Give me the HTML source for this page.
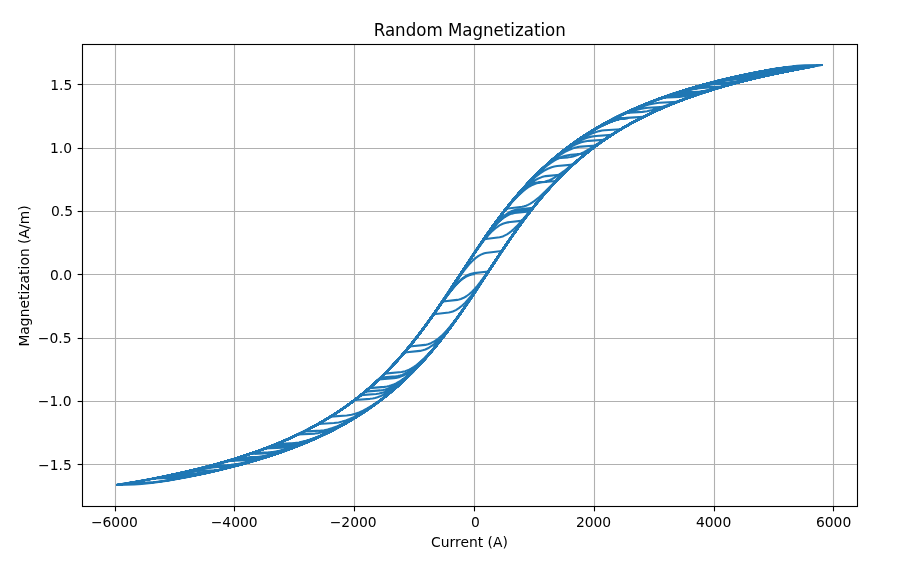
<!DOCTYPE html>
<html><head><meta charset="utf-8"><title>Random Magnetization</title>
<style>
html,body{margin:0;padding:0;background:#fff;}
svg{display:block;}
text{font-family:"DejaVu Sans","Liberation Sans",sans-serif;fill:#000;}
</style></head><body>
<svg width="906" height="571" viewBox="0 0 906 571" style="will-change:transform">
<rect x="0" y="0" width="906" height="571" fill="#fff"/>
<defs><clipPath id="ax"><rect x="82" y="44" width="775" height="462"/></clipPath></defs>
<g stroke="#b0b0b0" stroke-width="1.1111" clip-path="url(#ax)"><line x1="115.5" y1="44" x2="115.5" y2="507"/><line x1="234.5" y1="44" x2="234.5" y2="507"/><line x1="354.5" y1="44" x2="354.5" y2="507"/><line x1="474.5" y1="44" x2="474.5" y2="507"/><line x1="594.5" y1="44" x2="594.5" y2="507"/><line x1="714.5" y1="44" x2="714.5" y2="507"/><line x1="833.5" y1="44" x2="833.5" y2="507"/><line x1="82" y1="84.5" x2="858" y2="84.5"/><line x1="82" y1="148.5" x2="858" y2="148.5"/><line x1="82" y1="211.5" x2="858" y2="211.5"/><line x1="82" y1="274.5" x2="858" y2="274.5"/><line x1="82" y1="338.5" x2="858" y2="338.5"/><line x1="82" y1="401.5" x2="858" y2="401.5"/><line x1="82" y1="464.5" x2="858" y2="464.5"/></g>
<mask id="cm" maskUnits="userSpaceOnUse" x="0" y="0" width="906" height="571"><g style="isolation:isolate" fill="none" stroke="#fff" stroke-width="2.0833" stroke-linecap="round" stroke-linejoin="round"><path style="mix-blend-mode:plus-lighter" d="M474.00 274.29 471.84 274.55 469.33 275.24 466.99 276.20 464.66 277.48 462.32 279.08 459.98 280.99 457.65 283.20 455.13 285.86 451.54 290.09 447.40 295.42 425.30 326.03 418.47 335.09 412.00 343.31 404.63 352.21 397.44 360.41 390.07 368.33 382.70 375.76 375.87 382.23 369.04 388.33 362.03 394.22 354.84 399.89 347.48 405.36 339.93 410.61 332.20 415.64 324.11 420.58 314.41 426.09 304.52 431.27 294.28 436.24 283.49 441.07 272.35 445.68 260.85 450.06 248.99 454.23 236.59 458.24 223.65 462.11 210.35 465.76 196.33 469.31 181.77 472.70 166.67 475.93 150.86 479.05 134.32 482.05 117.25 484.89"/><path style="mix-blend-mode:plus-lighter" d="M117.25 484.89 134.32 484.53 141.87 484.08 153.37 482.80 167.57 480.64 186.80 477.13 207.11 472.89 226.52 468.34 245.03 463.48 260.49 458.97 275.23 454.24 289.43 449.21 302.90 443.95 315.84 438.39 328.25 432.54 340.11 426.39 351.61 419.84 361.85 413.46 371.74 406.76 381.26 399.75 390.61 392.29 399.60 384.51 408.40 376.26 417.03 367.55 425.48 358.38 433.03 349.62 440.57 340.33 448.12 330.52 456.03 319.70 463.04 309.71 470.77 298.33 498.26 256.49 509.77 239.42 516.06 230.42 522.17 221.97 528.10 214.06 533.85 206.70 541.04 197.92 548.23 189.63 555.42 181.82 562.79 174.30 570.33 167.07 577.88 160.30 585.61 153.83 593.70 147.50 603.76 140.22 614.37 133.20 625.33 126.57 636.83 120.21 648.69 114.24 661.09 108.55 674.03 103.14 687.69 97.96 701.89 93.06 716.63 88.44 732.09 84.04 748.44 79.82 765.51 75.82 783.31 72.04 802.00 68.44 821.77 64.99"/><path style="mix-blend-mode:plus-lighter" d="M821.77 64.99 804.68 65.36 797.13 65.84 785.62 67.17 771.59 69.39 752.53 73.01 732.57 77.35 713.33 82.05 695.16 87.03 679.88 91.68 665.13 96.63 651.10 101.83 637.80 107.27 624.85 113.09 612.62 119.15 600.94 125.50 589.62 132.26 579.92 138.58 570.39 145.32 561.23 152.34 552.42 159.64 543.80 167.36 535.35 175.50 527.09 184.07 518.82 193.26 511.63 201.76 504.45 210.75 497.08 220.45 489.53 230.87 482.70 240.67 475.34 251.56 449.28 291.24 438.50 307.29 426.82 323.87 415.86 338.43 409.21 346.73 402.56 354.62 395.91 362.09 389.08 369.35 382.25 376.19 375.25 382.80 368.24 389.02 361.05 395.01 351.89 402.13 342.54 408.83 332.66 415.35 322.60 421.47 312.17 427.29 301.21 432.92 289.89 438.25 278.03 443.38 265.81 448.21 253.06 452.84 239.76 457.25 225.74 461.50 211.19 465.54 196.09 469.37 180.28 473.03 163.75 476.53"/><path style="mix-blend-mode:plus-lighter" d="M163.75 476.53 180.28 476.10 185.85 475.76 194.66 474.71 205.08 472.95 219.46 469.92 235.28 466.07 251.27 461.70 266.91 456.96 280.57 452.40 293.69 447.60 306.27 442.55 318.49 437.19 330.17 431.58 341.31 425.73 352.10 419.54 362.34 413.14 371.51 406.93 380.31 400.48 388.94 393.66 397.39 386.47 405.48 379.07 413.56 371.13 421.47 362.81 429.38 353.92 436.39 345.55 443.40 336.72 450.41 327.45 457.78 317.25 464.43 307.70 471.79 296.79 497.67 257.38 508.46 241.33 519.96 224.99 530.92 210.41 537.57 202.09 544.22 194.19 550.87 186.71 557.70 179.44 564.53 172.58 571.54 165.96 578.55 159.73 585.74 153.72 594.90 146.60 604.43 139.76 614.31 133.24 624.56 127.02 635.16 121.10 646.13 115.49 657.45 110.17 669.31 105.06 681.71 100.17 694.47 95.56 707.95 91.11 721.97 86.87 736.53 82.85 751.80 79.00 767.80 75.31 784.51 71.80"/><path style="mix-blend-mode:plus-lighter" d="M784.51 71.80 767.61 72.24 760.60 72.74 755.38 73.35 749.81 74.19 737.04 76.57 719.60 80.53 701.25 85.31 683.45 90.56 666.37 96.20 651.98 101.49 638.14 107.12 625.01 113.02 612.40 119.26 600.32 125.86 588.82 132.77 577.67 140.12 566.89 147.93 559.35 153.85 551.98 160.02 544.79 166.44 537.60 173.27 530.60 180.36 523.77 187.68 516.94 195.44 510.11 203.63 504.18 211.09 498.07 219.12 491.96 227.47 485.49 236.63 473.27 254.66 450.81 288.92 441.65 302.66 431.76 316.98 422.60 329.60 417.03 336.93 411.64 343.75 406.25 350.30 400.86 356.57 395.47 362.58 389.90 368.51 384.32 374.16 378.75 379.54"/><path style="mix-blend-mode:plus-lighter" d="M378.75 379.54 393.67 378.24 395.83 377.95 397.98 377.49 399.96 376.90 404.09 375.18 406.61 373.83 409.30 372.13 412.00 370.19 414.87 367.90 420.98 362.34 427.63 355.45 434.28 347.89 441.47 339.10 449.01 329.29 456.74 318.69 463.75 308.68 471.30 297.54 497.89 257.06 508.85 240.75 520.53 224.20 531.49 209.68 538.14 201.40 544.79 193.54 551.44 186.09 558.09 179.04 564.92 172.21 571.74 165.77 578.75 159.55 585.94 153.56"/><path style="mix-blend-mode:plus-lighter" d="M585.94 153.56 570.67 154.77 567.79 155.16 565.28 155.75 562.76 156.54 560.24 157.54 557.55 158.83 554.31 160.66 550.90 162.88 547.31 165.51 543.71 168.39 539.76 171.81 535.81 175.47 527.18 184.13 518.56 193.62 509.93 203.87 501.13 215.07 491.96 227.47 484.95 237.41 477.23 248.74 447.04 294.62 433.74 314.17"/><path style="mix-blend-mode:plus-lighter" d="M433.74 314.17 448.84 312.43 450.81 312.03 452.79 311.43 455.85 310.08 458.90 308.19 461.96 305.78 465.01 302.88 467.89 299.76 470.94 296.10 474.36 291.65 478.13 286.43 484.96 276.47 506.70 243.88 513.53 233.99 520.00 224.92 525.75 217.15 531.50 209.66 537.26 202.48 542.83 195.82 550.02 187.65 557.38 179.77 564.75 172.37 572.30 165.26 580.03 158.46 587.94 151.96 596.02 145.77 604.47 139.74 613.10 134.01 622.08 128.47 631.25 123.23 640.77 118.17 650.66 113.30 660.72 108.71 671.32 104.24 682.29 99.95 693.61 95.86 705.47 91.90 717.69 88.13 730.27 84.54 743.39 81.08 757.05 77.75 771.24 74.56 786.16 71.47"/><path style="mix-blend-mode:plus-lighter" d="M786.16 71.47 769.45 71.89 762.80 72.34 752.56 73.66 740.34 75.86 723.63 79.54 705.66 84.11 688.05 89.14 671.34 94.49 656.96 99.60 643.30 104.96 630.19 110.62 617.79 116.52 605.75 122.81 594.25 129.42 583.11 136.45 572.50 143.78 564.24 149.97 556.15 156.48 548.25 163.31 540.52 170.45 532.97 177.91 525.60 185.67 518.24 193.93 510.87 202.70 504.76 210.35 498.47 218.58 492.18 227.16 485.53 236.57 473.31 254.60 451.03 288.58 442.23 301.81 433.06 315.13 424.44 327.13 414.37 340.32 404.49 352.37 394.43 363.70 384.37 374.12 378.08 380.18 371.79 385.92 365.32 391.50 358.67 396.92 351.84 402.16 345.01 407.11 338.00 411.89 330.82 416.51 323.45 420.97 315.72 425.36 307.82 429.59 299.73 433.65 291.46 437.54 282.84 441.35 274.03 445.01 265.05 448.50"/><path style="mix-blend-mode:plus-lighter" d="M265.05 448.50 282.48 447.70 286.61 447.22 291.11 446.40 297.04 444.91 303.69 442.80 310.69 440.20 318.42 436.98 327.41 432.84 336.57 428.23 345.74 423.23 354.54 418.06 363.17 412.60 371.61 406.85 379.70 400.94 387.61 394.75 394.44 389.05 401.09 383.16 407.55 377.08 414.02 370.66 420.31 364.06 426.60 357.10 432.71 349.99 439.00 342.31 444.57 335.19 450.32 327.56 456.25 319.39 462.36 310.69 474.05 293.41 495.97 259.97 505.13 246.21 514.84 232.14 523.82 219.73 529.21 212.61 534.61 205.75 540.00 199.17 545.21 193.06 550.60 187.00 555.99 181.22 561.38 175.69 566.95 170.25 573.96 163.76 581.15 157.51 588.52 151.50 595.89 145.87 603.61 140.33 611.52 135.03 619.61 129.96 627.87 125.11 636.50 120.39 645.30 115.89 654.47 111.52 663.99 107.29 673.88 103.21 683.94 99.33 694.36 95.60 705.15 92.00"/><path style="mix-blend-mode:plus-lighter" d="M705.15 92.00 688.97 92.62 683.76 93.09 679.81 93.69 675.68 94.51 666.69 96.82 660.76 98.66 654.47 100.82 647.82 103.29 640.82 106.08 626.98 112.12 620.15 115.37 613.32 118.79 601.28 125.31 589.60 132.27 578.28 139.70 567.50 147.47 557.08 155.71 547.02 164.41 537.13 173.73 527.61 183.51"/><path style="mix-blend-mode:plus-lighter" d="M527.61 183.51 542.17 182.07 544.69 181.66 547.02 181.05 549.54 180.15 552.06 179.01 554.58 177.66 558.89 174.91 563.92 171.21 583.52 155.30 593.41 147.64 602.58 141.02 611.74 134.87"/><path style="mix-blend-mode:plus-lighter" d="M611.74 134.87 595.93 135.93 591.44 136.62 588.03 137.51 584.43 138.77 580.66 140.41 576.70 142.45 571.85 145.31 566.82 148.65 561.43 152.58 555.68 157.10 549.93 161.94 544.00 167.24 538.07 172.85 532.32 178.59 522.98 188.57 513.63 199.35 504.29 210.96 494.94 223.35 486.68 234.93 477.87 247.78 447.86 293.38 435.65 311.43 429.00 320.86 422.71 329.46 416.42 337.71 410.31 345.39 402.94 354.18 395.39 362.66 387.85 370.62 380.30 378.08 372.39 385.38 364.49 392.20 356.40 398.70 347.95 405.01 337.89 411.96 327.65 418.46 317.05 424.63 305.91 430.57 294.41 436.18 282.37 441.56 269.79 446.68 256.85 451.50 243.19 456.15 229.00 460.55 214.08 464.76 198.45 468.79 182.28 472.58 165.21 476.23 147.42 479.70 128.73 483.01"/><path style="mix-blend-mode:plus-lighter" d="M128.73 483.01 146.36 482.61 155.36 481.96 161.65 481.23 168.85 480.20 185.58 477.30 196.20 475.21 206.99 472.91 217.97 470.41 228.58 467.82 238.84 465.17 248.91 462.39 258.63 459.54 267.98 456.62"/><path style="mix-blend-mode:plus-lighter" d="M267.98 456.62 250.55 457.38 245.51 457.95 239.94 458.88 228.80 461.32 192.66 470.23 170.73 475.10"/><path style="mix-blend-mode:plus-lighter" d="M170.73 475.10 187.26 474.66 193.55 474.23 203.26 472.96 214.76 470.83 230.57 467.22 247.64 462.72 264.35 457.77 280.52 452.41 294.36 447.34 307.66 441.97 320.42 436.30 332.63 430.33 344.31 424.06 355.64 417.40 366.42 410.44 376.84 403.08 385.28 396.61 393.37 389.96 401.28 382.98 409.00 375.68 416.55 368.05 424.10 359.92 431.65 351.26 439.01 342.30 449.44 328.76 460.40 313.52 472.62 295.56 497.77 257.23 509.09 240.40 515.38 231.37 521.31 223.13 527.24 215.18 532.99 207.78"/><path style="mix-blend-mode:plus-lighter" d="M532.99 207.78 517.54 209.43 515.02 209.96 512.50 210.79 509.09 212.44 505.49 214.81 501.90 217.81 498.12 221.54 494.71 225.36 491.11 229.74 487.16 234.91 482.67 241.10 472.60 255.78 447.44 294.02 435.22 312.05 428.39 321.71 421.92 330.52 415.62 338.73 409.33 346.58 401.96 355.30 394.42 363.72 386.87 371.61 379.32 379.01 371.59 386.10 363.50 393.01 355.23 399.60 346.79 405.85 337.80 412.03 328.45 417.97 318.75 423.68 308.68 429.14 298.44 434.27 287.65 439.26 276.51 444.00 264.83 448.58 252.78 452.93 240.20 457.11 227.08 461.11 213.60 464.89 199.58 468.51 184.84 472.01 169.56 475.33 153.57 478.53"/><path style="mix-blend-mode:plus-lighter" d="M153.57 478.53 173.34 477.97 179.99 477.38 187.36 476.39 197.43 474.68 208.94 472.36 221.52 469.52 234.46 466.30"/><path style="mix-blend-mode:plus-lighter" d="M234.46 466.30 217.54 466.90 213.04 467.29 208.00 467.93 195.40 470.14 163.72 476.59"/><path style="mix-blend-mode:plus-lighter" d="M163.72 476.59 180.97 476.13 189.42 475.43 195.53 474.61 202.18 473.50 209.55 472.08 217.63 470.34"/><path style="mix-blend-mode:plus-lighter" d="M217.63 470.34 202.67 470.81 196.90 471.22 187.88 472.38 175.62 474.48"/><path style="mix-blend-mode:plus-lighter" d="M175.62 474.48 190.36 474.07 197.19 473.55 207.07 472.17 218.76 469.92 234.40 466.25 251.11 461.73 267.47 456.78 283.29 451.44 296.95 446.33 309.89 441.01 322.29 435.42 334.33 429.45 345.84 423.20 356.80 416.67 367.41 409.77 377.65 402.48 385.56 396.39 393.29 390.03 400.84 383.38 408.39 376.28 415.76 368.88 422.95 361.19 430.14 353.03 437.15 344.61 443.08 337.13 449.19 329.08 455.48 320.47 461.95 311.28 474.00 293.48 504.37 247.34 513.54 233.99 521.99 222.21 531.87 209.19 541.58 197.28 551.29 186.25 561.17 175.90 567.28 169.93 573.40 164.27 579.69 158.75 586.16 153.39 592.81 148.18 599.46 143.26 606.47 138.37 613.48 133.77 620.67 129.32 628.22 124.92 635.77 120.78 643.68 116.70 651.76 112.78 660.03 109.02 668.48 105.40 677.29 101.86"/><path style="mix-blend-mode:plus-lighter" d="M677.29 101.86 659.14 102.75 654.11 103.45 648.90 104.58 641.89 106.63 634.34 109.36 625.90 112.89 616.91 117.09 607.03 122.17 597.32 127.62 587.80 133.42 578.46 139.59 569.47 146.00 560.67 152.79 552.22 159.81 543.96 167.21 538.21 172.68 532.46 178.44 526.71 184.48 521.13 190.62 515.56 197.05 509.99 203.77 504.42 210.78 498.67 218.31 489.33 231.16 479.27 245.72 469.92 259.73 447.82 293.44 436.14 310.72 424.46 327.09 418.89 334.51 413.32 341.65 407.39 348.93 401.64 355.68 395.71 362.31 389.78 368.63 383.85 374.63 377.74 380.50 371.45 386.22 365.16 391.63"/><path style="mix-blend-mode:plus-lighter" d="M365.16 391.63 380.26 390.41 382.95 390.05 385.29 389.53 387.80 388.76 390.32 387.77 392.84 386.57 395.89 384.85 399.12 382.75 402.36 380.39 405.77 377.66 409.55 374.37 413.32 370.86 421.41 362.66 429.31 353.91 437.40 344.27 445.67 333.75 454.29 322.12 461.84 311.44 470.11 299.31 498.68 255.86 510.54 238.30 517.01 229.08 523.30 220.43 529.41 212.36 535.34 204.84 542.71 195.96 550.08 187.58 557.44 179.70 564.99 172.13 572.72 164.88 580.63 157.96 588.71 151.35 596.98 145.06 606.68 138.23 616.57 131.82 626.81 125.72 637.59 119.82 648.73 114.22 660.23 108.93 672.27 103.85 684.67 99.06 697.61 94.49 711.27 90.07 725.47 85.87 740.20 81.89 755.66 78.08 771.83 74.44 788.72 70.96 806.33 67.65"/><path style="mix-blend-mode:plus-lighter" d="M806.33 67.65 786.03 68.22 778.84 68.86 770.75 69.92 759.61 71.77 746.86 74.26 733.02 77.27 719.00 80.62 705.88 84.03 693.13 87.62 680.73 91.41 668.87 95.33 657.37 99.45 646.41 103.69 635.80 108.13 625.56 112.76 616.58 117.12 607.95 121.62 599.51 126.32 591.24 131.25 583.15 136.42 575.43 141.69 567.88 147.19 560.51 152.91 553.33 158.87 546.32 165.04 539.49 171.44 532.66 178.23 526.01 185.23 519.36 192.63 512.71 200.45 506.07 208.68"/><path style="mix-blend-mode:plus-lighter" d="M506.07 208.68 522.24 206.83 524.21 206.34 526.01 205.74 527.99 204.90 529.96 203.89 532.30 202.47 534.64 200.83 539.67 196.71 545.42 191.33 555.84 180.93"/><path style="mix-blend-mode:plus-lighter" d="M555.84 180.93 539.67 182.53 535.89 183.48 532.30 184.95 529.96 186.21 527.63 187.68 525.29 189.36 522.78 191.39 517.57 196.21 511.82 202.33 506.25 208.87 500.14 216.57 493.67 225.19 486.66 234.99 473.90 253.73 450.54 289.33 441.20 303.33 431.49 317.36 422.33 329.96 411.91 343.41 401.66 355.65 396.63 361.30 391.42 366.91 386.21 372.28 380.82 377.58"/><path style="mix-blend-mode:plus-lighter" d="M380.82 377.58 395.73 376.25 397.89 375.96 400.05 375.49 402.02 374.90 404.18 374.07 406.34 373.06 409.03 371.55 411.73 369.79 414.42 367.80 417.30 365.43 423.41 359.72 430.06 352.67 436.34 345.38 443.17 336.91 450.18 327.71 457.55 317.55 464.20 308.02 471.56 297.13 497.80 257.19 508.58 241.14 520.26 224.57 525.83 217.05 531.40 209.80"/><path style="mix-blend-mode:plus-lighter" d="M531.40 209.80 515.95 211.46 513.25 212.04 510.74 212.91 507.32 214.60 503.73 217.03 500.14 220.08 496.18 224.07 492.77 227.97 489.17 232.42 485.22 237.66 480.91 243.66 471.38 257.62 448.20 292.87 437.06 309.38 425.20 326.08 419.45 333.77 413.88 340.94 407.23 349.12 400.77 356.68 394.12 364.04 387.47 371.00 380.64 377.75 373.81 384.11 366.80 390.25 359.80 396.02 352.43 401.72 344.88 407.20 337.15 412.45 329.07 417.59 320.80 422.51 312.36 427.20 303.73 431.67 294.75 436.02 285.40 440.25 275.88 444.26 266.00 448.14 255.75 451.89 245.15 455.51 234.19 458.98 222.87 462.33 211.19 465.54"/><path style="mix-blend-mode:plus-lighter" d="M211.19 465.54 227.19 465.02 230.96 464.78 237.61 463.97 244.98 462.60 254.87 460.24 266.19 457.02 278.23 453.14 290.64 448.73 302.50 444.10 314.00 439.21 325.15 434.05 335.75 428.71 346.18 423.01 356.06 417.13 365.59 410.99 374.94 404.47 383.03 398.39 390.75 392.17 398.30 385.66 405.67 378.89 412.86 371.84 420.05 364.34 427.24 356.38 434.25 348.15 440.54 340.37 447.01 331.99 453.49 323.24 460.14 313.89 472.90 295.14 496.80 258.70 506.69 243.92 517.29 228.68 527.18 215.27 533.29 207.40 539.22 200.09 545.16 193.12 551.09 186.47 557.20 179.96 563.31 173.78 569.42 167.92 575.71 162.20 583.62 155.45 591.89 148.88 600.34 142.63 608.96 136.70 617.95 130.97 627.12 125.54 636.65 120.31 646.53 115.29 656.78 110.47 667.38 105.86 678.35 101.45 689.67 97.25 701.53 93.18 713.76 89.31 726.52 85.58 739.82 81.99"/><path style="mix-blend-mode:plus-lighter" d="M739.82 81.99 723.47 82.51 718.44 82.89 710.35 84.03 701.19 85.92 688.61 89.20 674.59 93.48 660.22 98.42 646.02 103.86 633.44 109.17 621.22 114.83 609.54 120.77 598.22 127.07 587.44 133.64 577.02 140.58 566.95 147.89 557.25 155.57 550.96 160.91 544.85 166.38 538.74 172.16 532.81 178.07 526.88 184.29 521.13 190.62 515.20 197.48 509.45 204.44 503.70 211.71 497.95 219.28 492.02 227.38 485.91 236.02 473.69 254.03 450.15 289.92 440.09 304.96 429.31 320.42 419.25 334.04 412.96 342.10 406.85 349.58 400.74 356.71 394.63 363.49 388.52 369.93 382.23 376.22 375.76 382.33 369.29 388.11"/><path style="mix-blend-mode:plus-lighter" d="M369.29 388.11 384.39 386.86 386.90 386.52 389.06 386.05 391.40 385.34 393.73 384.44 396.07 383.35 398.94 381.77 401.82 379.93 404.87 377.74 408.11 375.17 414.94 369.05 422.48 361.40 430.03 353.03 437.94 343.58 446.03 333.27 454.47 321.87 462.02 311.18 470.11 299.31 498.86 255.59 510.72 238.04 517.37 228.58 523.66 219.95 529.77 211.89 535.88 204.17 543.25 195.32 550.80 186.79 558.34 178.77 566.07 171.09 573.98 163.75 581.89 156.89 590.15 150.22 598.60 143.88 608.48 137.02 618.55 130.60 628.97 124.49 639.93 118.60 651.25 113.02 663.11 107.67 675.51 102.56 688.27 97.75 701.57 93.16 715.59 88.75 730.14 84.57 745.42 80.57 761.23 76.79 777.95 73.14 795.38 69.68 813.53 66.39"/><path style="mix-blend-mode:plus-lighter" d="M813.53 66.39 796.10 66.79 787.65 67.38 781.54 68.08 774.90 69.02 759.26 71.73 738.78 75.96 717.93 80.88 698.17 86.17 688.64 88.96 679.48 91.81 663.84 97.09 648.93 102.69 634.73 108.60 621.26 114.81 608.32 121.42 595.92 128.42 584.06 135.82 572.74 143.61 564.29 149.93 556.03 156.58 547.94 163.58 540.04 170.91 532.31 178.59 524.76 186.59 517.21 195.12 509.67 204.17 503.56 211.89 497.45 219.95 491.16 228.59 484.51 238.04 472.65 255.60 444.08 299.05 436.17 310.67 428.81 321.12 420.54 332.34 412.63 342.51 404.73 352.09 396.82 361.10 387.84 370.63 378.85 379.45 369.51 387.92 359.98 395.87 350.10 403.45 339.86 410.65 329.26 417.48 318.11 424.03"/><path style="mix-blend-mode:plus-lighter" d="M318.11 424.03 333.93 423.08 338.60 422.45 342.19 421.60 345.79 420.48 349.56 419.03 353.69 417.15 358.73 414.55 363.94 411.52 369.51 407.98 375.44 403.91 381.37 399.56 387.48 394.80 393.41 389.90 399.34 384.72 404.73 379.77 410.12 374.58 415.33 369.32 420.54 363.82 425.75 358.07 430.96 352.07 441.20 339.53 451.27 326.28 461.69 311.66 472.83 295.24 488.46 271.42"/><path style="mix-blend-mode:plus-lighter" d="M488.46 271.42 474.09 273.15 472.29 273.46 470.31 274.00 468.52 274.68 466.54 275.66 464.74 276.74 462.59 278.29 460.25 280.27 457.92 282.53 455.40 285.25 450.01 291.84 442.82 301.59"/><path style="mix-blend-mode:plus-lighter" d="M442.82 301.59 457.21 299.90 459.01 299.56 460.81 299.04 463.68 297.83 466.38 296.26 469.08 294.27 471.96 291.70 474.65 288.91 477.53 285.59 480.59 281.73 484.00 277.13 490.30 268.13 511.52 236.86 518.71 226.70 525.55 217.42 532.02 209.01 538.49 200.97 544.79 193.54 551.26 186.28 559.35 177.74 567.45 169.78 575.72 162.20 584.17 155.00 592.98 148.04 601.98 141.47 611.33 135.15 620.86 129.20"/><path style="mix-blend-mode:plus-lighter" d="M620.86 129.20 604.69 130.24 601.99 130.58 599.30 131.11 595.34 132.22 591.21 133.75 586.90 135.71 582.40 138.07 576.65 141.52 570.54 145.59 564.08 150.31 557.61 155.39 550.96 160.97 544.49 166.75 538.02 172.88 531.73 179.19 522.21 189.42 512.86 200.27 503.52 211.95 493.99 224.65 485.91 236.03 477.10 248.92 449.07 291.55 438.47 307.33 427.87 322.43 417.80 335.92 412.23 343.00 406.84 349.58 401.45 355.89 396.06 361.93 390.67 367.70 385.10 373.39 379.53 378.81 373.78 384.14 368.21 389.05 362.46 393.87 356.71 398.46 350.78 402.95 344.67 407.35 338.56 411.52 332.27 415.60 325.98 419.47 319.33 423.35 312.68 427.02 305.86 430.60 298.85 434.07 291.66 437.45 284.29 440.73 276.75 443.91 268.84 447.05"/><path style="mix-blend-mode:plus-lighter" d="M268.84 447.05 286.99 446.17 292.03 445.48 297.24 444.35 304.25 442.31 311.80 439.60 320.25 436.08 329.06 432.00 338.94 426.96 348.65 421.56 358.18 415.80 367.52 409.68 376.51 403.32 385.32 396.59 393.77 389.62 402.04 382.29 407.97 376.69 413.72 370.97 419.47 364.97 425.04 358.86 430.62 352.47 436.19 345.79 441.76 338.82 447.51 331.33 457.04 318.29 467.11 303.77 476.63 289.50 500.00 253.87 512.58 235.36 519.41 225.74 525.88 216.98 532.18 208.81 538.47 201.01 545.66 192.54 552.85 184.56 560.22 176.87 567.59 169.64 575.14 162.71 582.87 156.08 590.77 149.74 599.04 143.56 608.03 137.32 617.38 131.32 627.08 125.56 636.97 120.14 647.22 114.96 658.00 109.92 669.15 105.13 680.83 100.50 692.87 96.12 705.28 91.96 718.40 87.92 731.88 84.10 745.90 80.45 760.64 76.92 775.92 73.57 791.74 70.37"/><path style="mix-blend-mode:plus-lighter" d="M791.74 70.37 775.73 70.77 771.41 70.98 764.21 71.67 756.12 72.82 744.97 74.83 732.37 77.48 718.70 80.72 705.03 84.27"/><path style="mix-blend-mode:plus-lighter" d="M705.03 84.27 722.30 83.62 727.15 83.17 732.55 82.41 744.24 80.24 771.76 74.38 786.87 71.30"/><path style="mix-blend-mode:plus-lighter" d="M786.87 71.30 770.16 71.73 763.51 72.19 753.27 73.50 741.23 75.67 724.52 79.33 706.73 83.82 689.30 88.77 672.58 94.07 658.21 99.14 644.55 104.44 631.43 110.06 619.04 115.90 607.18 122.04 595.68 128.57 584.53 135.51 573.93 142.75 565.49 149.01 557.40 155.45 549.31 162.35 541.59 169.43 534.04 176.82 526.49 184.71 519.13 192.91 511.76 201.61 505.47 209.44 499.18 217.64 492.71 226.43 485.88 236.07 473.48 254.35 450.84 288.87 441.86 302.35 432.33 316.17 423.35 328.59 412.93 342.14 407.72 348.54 402.51 354.68 397.29 360.57 392.08 366.21 386.69 371.79 381.30 377.11 374.65 383.35 368.00 389.22 361.00 395.06 353.99 400.55 346.80 405.84 339.43 410.94 331.89 415.84 323.98 420.66 315.89 425.27 307.63 429.69 299.18 433.91 290.38 438.04 281.39 441.97 272.05 445.80 262.34 449.51 252.46 453.04"/><path style="mix-blend-mode:plus-lighter" d="M252.46 453.04 268.28 452.40 271.33 452.18 277.08 451.37 283.19 450.06 291.28 447.76 300.44 444.58 310.51 440.59 320.93 435.99 331.71 430.77 342.14 425.26 352.20 419.48 362.09 413.31 371.61 406.85 380.78 400.13 389.76 392.99 398.39 385.59 404.50 380.00 410.61 374.10 416.72 367.88 422.65 361.52 428.58 354.84 434.33 348.05 440.26 340.73 446.19 333.07 456.08 319.64 466.50 304.66 476.38 289.87 500.47 253.17 513.40 234.18 520.23 224.61 526.88 215.66 533.53 207.10 540.00 199.16 547.37 190.60 554.92 182.35 562.47 174.61 570.19 167.20 578.10 160.12 586.19 153.36 594.46 146.93 602.90 140.82 612.25 134.56 621.95 128.55 631.84 122.90 642.26 117.41 653.04 112.18 664.18 107.21 675.87 102.42 687.91 97.88 700.49 93.52 713.61 89.35 727.26 85.37 741.46 81.57 756.20 77.95 771.65 74.47 787.83 71.14 804.54 67.98"/><path style="mix-blend-mode:plus-lighter" d="M804.54 67.98 788.36 68.35 783.50 68.60 775.41 69.38 766.24 70.68 753.48 72.95 739.09 75.92 723.99 79.39 708.89 83.22 695.22 87.01 682.10 90.98 669.51 95.11 657.46 99.41 645.78 103.95 634.63 108.64 623.84 113.57 613.41 118.74"/><path style="mix-blend-mode:plus-lighter" d="M613.41 118.74 622.87 118.17"/><path style="mix-blend-mode:plus-lighter" d="M622.87 118.17 618.91 119.05 614.60 120.34 610.11 122.00 605.26 124.11 600.05 126.67 594.65 129.58 588.90 132.95 583.15 136.56 577.22 140.51 571.29 144.70 565.36 149.13 559.61 153.65 553.86 158.41 548.29 163.27 542.72 168.36 537.33 173.54 527.63 183.49 517.93 194.29 508.40 205.74 498.70 218.28 489.71 230.61 480.19 244.35 470.67 258.60 445.33 297.18 437.42 308.86 430.24 319.13 421.79 330.68 413.52 341.39 405.44 351.26 397.17 360.71 391.96 366.34 386.75 371.73 381.54 376.89 376.15 381.98 370.76 386.83 365.37 391.46 359.80 396.02 354.05 400.50 348.30 404.77 342.37 408.95 336.26 413.04 330.15 416.93 323.86 420.73 317.39 424.44 310.74 428.06 303.91 431.58"/><path style="mix-blend-mode:plus-lighter" d="M303.91 431.58 320.62 430.64 324.04 430.20 327.63 429.47 332.48 428.08 337.51 426.23 343.08 423.78 349.01 420.79 356.38 416.63 363.93 411.95 371.84 406.62 379.56 401.01 387.11 395.14 394.66 388.85 401.84 382.46 409.03 375.65 414.24 370.44 419.45 364.99 424.66 359.29 429.70 353.55 439.94 341.13 450.18 327.75 458.99 315.53 468.33 301.95 477.32 288.46 499.42 254.75 511.64 236.72 518.11 227.55 524.39 218.96 530.50 210.95 536.61 203.27 543.80 194.68 550.99 186.58 558.18 178.95 565.54 171.60 573.09 164.55 580.64 157.94 588.37 151.62 596.45 145.45"/><path style="mix-blend-mode:plus-lighter" d="M596.45 145.45 581.00 146.59 577.22 147.15 574.35 147.87 571.29 148.92 568.24 150.23 565.01 151.88 561.05 154.23 556.92 157.03 552.61 160.26 547.93 164.07 543.08 168.32 538.05 173.01 533.02 177.96 527.81 183.35 519.18 192.86 510.56 203.08 501.93 214.01 492.95 226.10 485.22 237.02 476.78 249.41 448.74 292.05 437.60 308.60 425.92 325.10 420.35 332.59 414.78 339.80 408.13 348.03 401.66 355.65 395.20 362.87 388.55 369.90 381.72 376.71 374.89 383.13 367.88 389.33 360.87 395.16"/><path style="mix-blend-mode:plus-lighter" d="M360.87 395.16 376.15 393.95 379.20 393.52 381.90 392.87 384.59 391.98 387.29 390.86 389.98 389.51 393.40 387.51 396.81 385.22 400.41 382.53 404.36 379.29 408.49 375.63 412.81 371.55 417.30 367.06 421.79 362.33 429.88 353.29 438.14 343.36 446.59 332.54 455.21 320.84 462.58 310.37 470.67 298.48 497.98 256.92 508.76 240.88 520.09 224.81 530.87 210.48 537.16 202.60 543.45 195.09 549.74 187.96 556.20 180.99 562.67 174.41 569.14 168.18 575.79 162.13 582.62 156.28 590.17 150.21 597.89 144.39 605.80 138.83 614.07 133.39 622.51 128.22 631.14 123.29 640.12 118.50 649.47 113.87 658.99 109.48 668.87 105.24 679.12 101.16 689.72 97.23 700.68 93.46 712.00 89.84 723.86 86.33 736.08 82.97"/><path style="mix-blend-mode:plus-lighter" d="M736.08 82.97 720.09 83.49 715.96 83.76 708.95 84.65 701.22 86.13 690.80 88.68 678.94 92.13 666.36 96.26 653.60 100.89 641.56 105.68 629.88 110.76 618.74 116.05 607.96 121.61 597.54 127.47 587.47 133.61 577.77 140.05 568.43 146.78 560.70 152.76 553.15 159.01 545.79 165.53 538.60 172.30 531.59 179.33 524.58 186.79 517.57 194.70 510.75 202.85 504.64 210.51 498.53 218.51 492.24 227.08 485.77 236.23 473.55 254.25 450.73 289.04 441.38 303.05 431.50 317.35 422.16 330.19 416.59 337.50 411.02 344.52 405.62 351.03 400.05 357.48 394.48 363.64 388.91 369.52 383.34 375.13 377.59 380.63 370.41 387.14 363.04 393.40 355.49 399.40 347.76 405.15 339.86 410.65 331.59 416.03 323.15 421.15 314.52 426.02 305.54 430.76 296.37 435.26 286.85 439.61 276.96 443.82 266.72 447.87 256.30 451.70 245.34 455.44 234.02 459.04"/><path style="mix-blend-mode:plus-lighter" d="M234.02 459.04 250.01 458.45 253.79 458.18 260.43 457.24 267.80 455.67 277.69 452.93 288.65 449.30 300.69 444.77 312.73 439.75 324.23 434.48 335.37 428.91 346.16 423.02 356.58 416.81 366.64 410.29 376.35 403.44 385.69 396.29 394.86 388.68 401.33 382.94 407.80 376.85 414.09 370.60 420.38 364.00 426.49 357.24 432.60 350.13 438.71 342.68 445.00 334.64 455.24 320.81 466.02 305.36 476.09 290.32 500.53 253.08 513.47 234.09 520.29 224.53 526.76 215.81 533.23 207.47 539.70 199.52 546.71 191.34 553.90 183.43 561.09 175.99 568.28 168.99 575.83 162.10 583.37 155.66 591.10 149.49 599.19 143.46 607.27 137.83 615.72 132.35 624.35 127.14 633.15 122.18 642.32 117.38 651.66 112.83 661.55 108.35 671.61 104.12 682.03 100.05 692.82 96.14 703.96 92.38 715.64 88.74 727.68 85.25 740.08 81.93 753.02 78.71 766.50 75.60"/><path style="mix-blend-mode:plus-lighter" d="M766.50 75.60 749.95 76.06 743.66 76.51 738.98 77.08 733.95 77.85 722.62 80.07"/><path style="mix-blend-mode:plus-lighter" d="M722.62 80.07 737.76 79.56 741.90 79.24 746.59 78.69 758.85 76.70 782.28 72.14"/><path style="mix-blend-mode:plus-lighter" d="M782.28 72.14 763.76 72.68 758.00 73.17 751.53 74.01 742.90 75.46 733.19 77.41 722.40 79.86 711.07 82.68 699.20 85.89 687.69 89.25 676.36 92.82 665.39 96.54 654.96 100.35 644.71 104.38 634.82 108.56 625.29 112.88"/><path style="mix-blend-mode:plus-lighter" d="M625.29 112.88 642.40 111.87 647.08 111.16 652.30 109.96 656.98 108.62 662.38 106.86 689.75 97.10 706.50 91.54"/><path style="mix-blend-mode:plus-lighter" d="M706.50 91.54 690.32 92.16 685.11 92.63 681.15 93.23 676.84 94.08 672.34 95.16 667.49 96.50 661.38 98.41 654.91 100.63 648.07 103.17 640.88 106.04 633.69 109.10 626.68 112.26 619.85 115.51 613.02 118.95"/><path style="mix-blend-mode:plus-lighter" d="M613.02 118.95 627.29 118.10"/><path style="mix-blend-mode:plus-lighter" d="M627.29 118.10 622.80 118.58 618.13 119.56 613.09 121.07 607.88 123.07 602.13 125.70 596.02 128.87 589.55 132.59 582.73 136.85 575.90 141.44 568.89 146.47 562.06 151.70 555.23 157.26 548.58 163.01 542.12 168.94 535.83 175.03 529.54 181.47 520.37 191.48 511.39 202.06 502.40 213.39 493.06 225.95 485.15 237.12 476.71 249.52 449.39 291.07 439.15 306.34 428.73 321.23 419.03 334.33 413.63 341.25 408.42 347.68 403.21 353.86 398.00 359.79 392.79 365.46 387.40 371.07 382.01 376.43 376.62 381.54 371.23 386.42 365.66 391.22 359.91 395.93 354.16 400.42 348.23 404.82 342.30 409.00 336.19 413.09 329.90 417.08 323.43 420.98 316.96 424.68 310.13 428.38 303.30 431.89 296.29 435.30 289.11 438.61 281.74 441.82 274.01 445.01"/><path style="mix-blend-mode:plus-lighter" d="M274.01 445.01 291.80 444.14 296.47 443.51 301.51 442.45 307.97 440.58 315.16 438.00 322.89 434.77 331.33 430.81 340.86 425.90 350.38 420.53 359.73 414.82 368.71 408.87 377.52 402.58 385.96 396.07 394.41 389.07 402.49 381.86 408.24 376.42 413.99 370.69 419.74 364.68 425.31 358.56 430.88 352.16 436.46 345.47 442.03 338.48 447.60 331.22 457.12 318.17 467.18 303.65 476.71 289.38 500.07 253.77 513.00 234.75 520.01 224.91 526.66 215.95 533.31 207.38 539.78 199.43 547.33 190.65 555.05 182.21 562.78 174.30 570.69 166.74 578.77 159.54 587.04 152.68 595.66 146.03 604.47 139.74"/><path style="mix-blend-mode:plus-lighter" d="M604.47 139.74 588.83 140.84 584.52 141.49 581.28 142.34 577.87 143.56 574.28 145.15 570.68 147.04 566.19 149.76 561.51 152.94 556.48 156.71 551.09 161.09 545.70 165.78 540.13 170.92 534.56 176.35 528.81 182.27 519.82 192.12 511.01 202.52 502.21 213.65 493.04 225.97 485.31 236.89 476.86 249.28 449.01 291.65 438.22 307.69 427.08 323.51 416.48 337.64 410.37 345.31 404.44 352.43 398.33 359.43 392.22 366.07 386.10 372.38 379.81 378.54 373.52 384.37 367.05 390.04 360.04 395.82 352.86 401.40 345.49 406.77 337.94 411.93 330.21 416.89 322.12 421.74 313.86 426.39 305.41 430.82 296.60 435.15 287.62 439.27 278.27 443.28 268.74 447.09 258.86 450.78 248.62 454.35 238.01 457.80 227.23 461.07"/><path style="mix-blend-mode:plus-lighter" d="M227.23 461.07 246.28 460.31 252.21 459.58 258.86 458.33 267.49 456.19 277.37 453.23 287.98 449.63 299.12 445.43 310.44 440.76 321.40 435.83 332.01 430.64 342.25 425.21 352.14 419.52 361.66 413.58 370.83 407.40 379.81 400.86 387.36 394.95 394.73 388.79 401.92 382.39 408.93 375.75 415.94 368.69 422.77 361.39 429.60 353.66 436.25 345.72 442.18 338.29 448.29 330.29 454.58 321.72 461.05 312.58 473.45 294.30 496.46 259.23 505.98 244.96 516.05 230.44 525.57 217.39 531.32 209.90 536.89 202.92 542.47 196.24 548.22 189.65 553.79 183.55 559.54 177.55 565.29 171.85 571.22 166.25 578.77 159.54 586.32 153.26 594.05 147.24 602.13 141.36 610.40 135.76 618.85 130.42 627.65 125.24 636.64 120.32 645.99 115.56 655.51 111.05 665.58 106.62 675.82 102.44 686.42 98.42 697.57 94.50 709.07 90.75 720.93 87.17"/><path style="mix-blend-mode:plus-lighter" d="M720.93 87.17 703.65 87.80 699.69 88.15 695.36 88.74 689.60 89.83 683.30 91.32 676.46 93.21 669.08 95.50"/><path style="mix-blend-mode:plus-lighter" d="M669.08 95.50 685.61 94.74 690.47 94.16 696.04 93.18 707.18 90.58 741.87 81.42 760.92 76.85 773.68 74.04 786.62 71.37 800.10 68.79 813.94 66.32"/><path style="mix-blend-mode:plus-lighter" d="M813.94 66.32 794.71 66.80 788.59 67.26 781.76 68.03 772.41 69.40 761.80 71.25 749.94 73.57 737.53 76.23"/><path style="mix-blend-mode:plus-lighter" d="M737.53 76.23 752.64 75.79 757.14 75.53 764.52 74.74 773.51 73.40"/><path style="mix-blend-mode:plus-lighter" d="M773.51 73.40 759.67 73.79 751.94 74.42 741.33 75.98 728.74 78.48 712.20 82.41 694.94 87.11 678.04 92.28 662.04 97.74"/><path style="mix-blend-mode:plus-lighter" d="M662.04 97.74 679.48 96.90 684.52 96.27 690.09 95.23 700.52 92.69 727.50 85.21 743.32 81.07 760.41 76.97 778.03 73.12"/><path style="mix-blend-mode:plus-lighter" d="M778.03 73.12 758.80 73.70 752.50 74.27 745.67 75.21 736.50 76.84 725.90 79.10 714.21 81.90 701.98 85.12 689.76 88.63 677.89 92.32 666.39 96.20 655.24 100.25 644.45 104.48 634.21 108.83 624.32 113.34 614.61 118.12"/><path style="mix-blend-mode:plus-lighter" d="M614.61 118.12 618.68 117.88"/><path style="mix-blend-mode:plus-lighter" d="M618.68 117.88 613.83 119.74 608.44 122.12 602.87 124.89 596.94 128.10 590.65 131.78 584.36 135.71 578.07 139.89 571.78 144.33 565.85 148.74 559.93 153.40 554.17 158.15 548.42 163.15 542.85 168.24 537.28 173.59 531.71 179.20 526.32 184.89 517.70 194.55 509.25 204.69 500.81 215.48 492.00 227.41 484.45 238.13 476.37 250.02 449.05 291.58 438.45 307.36 427.13 323.44 416.53 337.57 410.42 345.25 404.31 352.58 398.20 359.57 391.91 366.39 385.62 372.87 379.33 379.00 372.86 384.96 366.22 390.75 358.49 397.06 350.40 403.23 342.14 409.10 333.51 414.81 324.71 420.23 315.72 425.37 306.38 430.33 296.67 435.12 286.61 439.72 276.37 444.06 265.59 448.30 254.45 452.35 242.95 456.23 230.91 459.98 218.51 463.55 205.57 467.00"/><path style="mix-blend-mode:plus-lighter" d="M205.57 467.00 221.56 466.50 225.88 466.22 233.07 465.31 240.97 463.83 251.76 461.24 263.98 457.76 276.92 453.62 290.04 448.96 302.26 444.21 314.12 439.16 325.44 433.91 336.40 428.37 347.00 422.53 357.07 416.51 366.77 410.20 376.30 403.48 384.21 397.47 391.93 391.18 399.48 384.61 406.85 377.76 414.04 370.65 421.23 363.07 428.24 355.24 435.24 346.94 441.36 339.34 447.65 331.15 454.11 322.37 460.76 312.99 473.34 294.47 496.53 259.12 506.05 244.86 516.30 230.08 525.82 217.06 531.57 209.58 537.32 202.40 542.89 195.74 548.64 189.17 554.40 182.90 560.15 176.94 565.90 171.26 571.83 165.69 579.38 159.02 587.10 152.63 595.01 146.52 603.10 140.69 611.37 135.13 619.99 129.72 628.80 124.59 637.96 119.62 647.49 114.82 657.19 110.28 667.26 105.91 677.68 101.71 688.46 97.68 699.60 93.82 711.29 90.06 723.33 86.48"/><path style="mix-blend-mode:plus-lighter" d="M723.33 86.48 707.33 87.04 703.56 87.29 696.73 88.20 689.37 89.68 679.48 92.25 668.34 95.70 656.30 99.92 644.08 104.66 632.40 109.64 621.08 114.90 610.12 120.46 599.52 126.32 589.46 132.36 579.57 138.82 570.05 145.57 560.88 152.62 553.88 158.40 546.87 164.54 540.04 170.91 533.21 177.66 526.56 184.63 520.09 191.80 513.62 199.36 506.98 207.53 501.41 214.70 495.66 222.38 483.80 239.08 472.48 255.87 443.19 300.38 434.38 313.25 426.11 324.84 416.41 337.72 407.07 349.32 397.72 360.10 388.20 370.26 382.27 376.18 376.34 381.80 370.23 387.29 363.94 392.65 357.65 397.72 351.18 402.65 344.53 407.44 337.70 412.09 330.70 416.59 323.69 420.83 316.32 425.03 308.77 429.09 301.05 433.00 293.14 436.77 285.05 440.40 276.61 443.96"/><path style="mix-blend-mode:plus-lighter" d="M276.61 443.96 294.40 443.07 299.07 442.44 303.92 441.39 310.39 439.50 317.40 436.95 325.13 433.68 333.40 429.75 342.74 424.86 352.09 419.52 361.43 413.72 370.42 407.69 379.22 401.30 387.67 394.70 395.93 387.75 404.02 380.44 409.77 374.92 415.34 369.31 420.91 363.42 426.48 357.24 432.05 350.78 437.45 344.24 442.84 337.44 448.41 330.13 457.75 317.28 467.64 302.98 476.98 288.97 499.44 254.71 511.66 236.68 518.13 227.51 524.24 219.16 530.35 211.14 536.28 203.67 542.93 195.69 549.76 187.93 556.59 180.59 563.60 173.49 570.61 166.82 577.80 160.38 585.16 154.19 592.53 148.39 600.44 142.56 608.71 136.87 617.15 131.46 625.96 126.21 634.94 121.22 644.29 116.40 653.99 111.74 663.88 107.34 674.12 103.11 684.72 99.04 695.68 95.14 707.18 91.35 719.05 87.72 731.27 84.26 744.02 80.92 757.14 77.73"/><path style="mix-blend-mode:plus-lighter" d="M757.14 77.73 741.15 78.20 736.83 78.45 729.64 79.28 721.55 80.67 710.59 83.07 698.00 86.33 684.70 90.20 671.40 94.48"/><path style="mix-blend-mode:plus-lighter" d="M671.40 94.48 688.66 93.70 693.69 93.12 699.26 92.14 708.97 89.94 741.14 81.58 762.36 76.52 774.40 73.88 786.62 71.38 812.15 66.63"/><path style="mix-blend-mode:plus-lighter" d="M812.15 66.63 794.90 67.02 787.17 67.54 775.49 68.98 761.11 71.40 741.89 75.28 721.76 79.93 702.53 84.94 684.38 90.26 669.11 95.25 654.55 100.51 640.72 106.03 627.42 111.89 614.66 118.10 602.44 124.65 590.76 131.55 579.62 138.78 570.64 145.14 562.01 151.72 553.57 158.66 545.30 165.97 537.21 173.65 529.31 181.71 521.58 190.12 513.85 199.08 507.39 207.02 500.74 215.58 493.91 224.77 486.90 234.61 473.96 253.63 450.60 289.24 441.08 303.50 431.02 318.03 421.67 330.84 416.10 338.12 410.71 344.89 405.32 351.39 399.75 357.83 394.36 363.78 388.79 369.65 383.22 375.25 377.47 380.75 370.28 387.25 363.09 393.35 355.72 399.22 348.18 404.85 340.45 410.25 332.36 415.54 324.10 420.59 315.65 425.40 306.85 430.09 297.86 434.55 288.52 438.87 279.00 442.98 269.11 446.95 258.87 450.78 248.27 454.47 237.31 458.02"/><path style="mix-blend-mode:plus-lighter" d="M237.31 458.02 253.30 457.42 257.07 457.14 263.54 456.22 270.73 454.67 280.25 452.00 291.03 448.39 302.71 443.94 314.57 438.93 326.07 433.59 337.22 427.93 348.00 421.96 358.24 415.77 368.12 409.28 377.83 402.35 387.17 395.10 396.16 387.56 401.91 382.41 407.48 377.16 413.05 371.65 418.44 366.07 423.83 360.22 429.22 354.10 434.61 347.72 440.00 341.05 450.78 326.94 462.28 310.81 473.78 293.81 496.42 259.28 505.95 245.01 516.19 230.23 525.89 216.96 531.82 209.26 537.57 202.09 543.32 195.24 549.07 188.69 555.00 182.26 560.93 176.14 566.86 170.33 572.97 164.65"/><path style="mix-blend-mode:plus-lighter" d="M572.97 164.65 557.16 166.02 554.29 166.52 551.59 167.27 547.82 168.78 543.86 170.90 539.73 173.66 535.42 177.04 530.03 181.87 524.28 187.61 518.17 194.26 511.70 201.80 505.05 210.03 498.22 218.94 491.21 228.52 483.67 239.27"/><path style="mix-blend-mode:plus-lighter" d="M483.67 239.27 499.66 237.32 501.64 236.80 503.43 236.16 507.03 234.34 509.18 232.91 511.52 231.11 513.85 229.06 516.37 226.61 521.76 220.75 529.67 211.36"/><path style="mix-blend-mode:plus-lighter" d="M529.67 211.36 514.57 213.01 511.88 213.62 509.18 214.59 505.59 216.48 501.99 219.03 498.22 222.37 494.27 226.50 490.85 230.50 487.26 235.05 483.13 240.62 478.63 246.97 469.65 260.24 450.06 290.06 441.26 303.24 431.91 316.76 423.29 328.68 413.59 341.31 404.06 352.87 394.54 363.59 384.83 373.65"/><path style="mix-blend-mode:plus-lighter" d="M384.83 373.65 401.55 372.06 405.32 371.14 409.10 369.63 411.43 368.41 413.95 366.86 416.47 365.09 418.98 363.11 424.55 358.08 430.48 351.94 436.59 344.95 443.24 336.76 450.25 327.59 457.62 317.44 464.27 307.91 471.64 297.02 497.88 257.07 508.84 240.76 520.70 223.96 526.28 216.46 531.85 209.23 538.68 200.75 545.33 192.92 551.98 185.50 558.81 178.30 565.64 171.51 572.64 164.95 579.83 158.63 587.20 152.55 595.29 146.31 603.56 140.37 612.18 134.60 620.99 129.12 630.16 123.83 639.50 118.82 649.39 113.91 659.45 109.27 669.87 104.83 680.84 100.50 691.98 96.43 703.66 92.48 715.70 88.72 728.28 85.08 741.22 81.63 754.70 78.31"/><path style="mix-blend-mode:plus-lighter" d="M754.70 78.31 738.17 78.80 732.60 79.20 723.62 80.45 713.37 82.50 699.18 86.04 683.54 90.57 667.91 95.68 652.64 101.24 639.34 106.61 626.76 112.20 614.54 118.16 602.86 124.41 591.54 131.07 580.76 138.01 570.34 145.36 560.28 153.10 552.91 159.22 545.72 165.59 538.71 172.19 531.88 179.02 525.06 186.27 518.23 193.94 511.58 201.83 504.75 210.36 493.79 224.94 482.11 241.54 471.33 257.60 446.17 295.93 433.05 315.15 426.40 324.44 420.11 332.90 413.82 341.01 407.54 348.75 401.25 356.13 394.96 363.13 388.49 369.96 382.02 376.42 375.37 382.69 368.72 388.60 361.71 394.48 354.71 400.00"/><path style="mix-blend-mode:plus-lighter" d="M354.71 400.00 369.99 398.84 372.68 398.49 375.02 398.00 377.54 397.27 380.06 396.35 382.57 395.23 385.63 393.65 388.86 391.72 392.28 389.43 395.88 386.77 399.65 383.75 403.61 380.36 411.88 372.64 420.87 363.39 430.04 353.13 439.38 341.82 448.73 329.70 457.54 317.58 467.07 303.82 476.42 289.82 501.59 251.49 509.50 239.81 516.69 229.53 525.14 217.97 533.41 207.25 541.50 197.38 549.77 187.92 554.98 182.28 560.20 176.88 565.41 171.73 570.81 166.63 576.20 161.77 581.59 157.14 587.17 152.58 592.92 148.09 598.85 143.70 604.79 139.52 610.90 135.43 617.01 131.55 623.30 127.75 629.78 124.04 636.43 120.43 643.26 116.91"/><path style="mix-blend-mode:plus-lighter" d="M643.26 116.91 626.55 117.85 622.95 118.32 619.36 119.06 614.33 120.52 609.12 122.47 603.55 124.96 597.44 128.07 589.89 132.37 582.16 137.21 574.26 142.58 566.35 148.38 558.62 154.46 551.08 160.81 543.71 167.44 536.52 174.34 531.31 179.62 526.28 184.94 516.22 196.28 506.15 208.57 495.91 222.04 487.28 234.06 478.12 247.41 448.47 292.46 437.33 308.99 426.01 324.98 415.41 339.00 409.48 346.40 403.73 353.26 397.98 359.81 392.05 366.25 386.12 372.37 380.19 378.18 374.08 383.87 367.79 389.41 361.68 394.51 355.39 399.48 348.92 404.31 342.45 408.89 335.62 413.45 328.80 417.76 321.79 421.94 314.60 425.98 307.23 429.89 299.68 433.67 291.96 437.32 283.87 440.91 275.61 444.37 267.16 447.70 258.54 450.90 249.55 454.04"/><path style="mix-blend-mode:plus-lighter" d="M249.55 454.04 268.06 453.22 273.45 452.52 279.20 451.36 286.93 449.29 295.38 446.52 304.91 442.93 314.79 438.78 325.21 433.98 335.64 428.76 345.70 423.27 355.41 417.53 364.75 411.55 373.92 405.21 382.73 398.62 391.17 391.82 397.82 386.09 404.29 380.19 410.76 373.94 417.05 367.53 423.34 360.76 429.45 353.83 435.56 346.56 441.67 338.93 452.46 324.65 463.96 308.37 474.92 292.08 503.32 248.90 511.95 236.27 519.85 225.13 529.20 212.63 538.37 201.13 547.53 190.42 556.88 180.29 562.63 174.45 568.56 168.73 574.49 163.29 580.42 158.13 586.53 153.08 592.82 148.17 599.29 143.38 605.94 138.73 612.77 134.22 619.60 129.96 626.61 125.83 633.98 121.74 641.35 117.87 649.08 114.06 656.80 110.46 664.89 106.91"/><path style="mix-blend-mode:plus-lighter" d="M664.89 106.91 648.00 107.75 644.23 108.19 640.45 108.89 635.24 110.22 629.67 112.05 623.74 114.35 617.27 117.20 609.37 121.07 601.10 125.51 592.83 130.33 584.57 135.51 576.48 140.96 568.76 146.54 561.21 152.36 553.66 158.58"/><path style="mix-blend-mode:plus-lighter" d="M553.66 158.58 568.22 157.34 570.73 156.99 573.07 156.48 575.41 155.80 580.44 153.81 584.39 151.82 589.07 149.15 616.02 132.02 624.83 126.80 633.64 121.90 643.70 116.68 653.95 111.76 664.55 107.06 675.69 102.49 685.22 98.86 695.10 95.34 705.35 91.94 715.95 88.64 726.73 85.52 738.05 82.45 749.56 79.54 761.60 76.70"/><path style="mix-blend-mode:plus-lighter" d="M761.60 76.70 745.07 77.18 739.14 77.60 729.79 78.89 719.01 81.01 704.10 84.64 687.92 89.21 671.75 94.36 656.30 99.85 642.82 105.16 629.88 110.76 617.48 116.67 605.62 122.88 594.30 129.39 583.34 136.29 572.74 143.61 562.50 151.34 554.95 157.49 547.58 163.90 540.39 170.57 533.39 177.48 526.38 184.83 519.55 192.42 512.72 200.44 505.89 208.90 500.32 216.12 494.57 223.86 482.71 240.65 471.75 256.96 445.16 297.44 437.61 308.59 430.78 318.36 423.23 328.75 415.87 338.42 408.50 347.59 401.31 356.05 393.23 365.00 384.96 373.53 376.51 381.64 367.89 389.32 359.08 396.59 349.92 403.58 340.40 410.29 330.69 416.59"/><path style="mix-blend-mode:plus-lighter" d="M330.69 416.59 346.69 415.54 351.54 414.78 355.32 413.76 359.09 412.40 363.05 410.65 367.18 408.50 372.39 405.42 377.96 401.72 383.72 397.55 389.83 392.77 395.94 387.66 402.05 382.23 408.16 376.48 414.27 370.40 423.80 360.25 433.14 349.48 442.49 337.89 452.02 325.26 460.28 313.68 469.09 300.83 499.11 255.22 510.97 237.68 517.44 228.48 523.55 220.10 529.66 212.03 535.59 204.53 542.60 196.08 549.79 187.89 556.98 180.18 564.35 172.76 571.90 165.63 579.45 158.96 587.18 152.57 595.27 146.33 604.61 139.64 614.32 133.23 624.20 127.22 634.63 121.39 645.41 115.84 656.56 110.57 668.24 105.50 680.28 100.71 692.86 96.12 705.98 91.73 719.64 87.55 733.84 83.57 748.58 79.78 764.04 76.15 780.21 72.67 797.11 69.35"/><path style="mix-blend-mode:plus-lighter" d="M797.11 69.35 780.04 69.77 772.85 70.26 761.89 71.67 748.59 74.01 730.44 77.89 711.40 82.57 693.07 87.64 675.46 93.12 660.72 98.21 646.71 103.57 633.23 109.26 620.29 115.28 607.89 121.65 596.03 128.35 584.71 135.39 573.75 142.88 565.13 149.29 556.68 156.04 548.41 163.15 540.33 170.63 532.42 178.47 524.69 186.66 516.97 195.40 509.24 204.70 503.13 212.45 497.02 220.53 490.73 229.18 484.08 238.66 472.22 256.24 445.63 296.74 432.51 315.92 426.58 324.20 420.65 332.19 414.90 339.65 409.33 346.58"/><path style="mix-blend-mode:plus-lighter" d="M409.33 346.58 425.14 344.91 428.02 344.26 430.89 343.20 434.67 341.20 438.62 338.37 442.75 334.68 447.07 330.14 451.02 325.50 455.33 320.02 460.01 313.72 465.22 306.35 475.46 291.23 496.30 259.46 505.29 245.98 514.63 232.43 523.44 220.25 533.32 207.36 543.02 195.59 552.73 184.69 562.61 174.47"/><path style="mix-blend-mode:plus-lighter" d="M562.61 174.47 545.72 176.09 541.77 177.09 537.81 178.74 535.30 180.11 532.78 181.71 530.09 183.68 527.39 185.87 521.64 191.21 515.17 198.08 508.88 205.42 502.23 213.74 495.23 223.02 487.68 233.52 474.20 253.27 450.66 289.15 441.32 303.15 431.79 316.93 422.99 329.08 413.11 341.92 403.22 353.85 393.34 364.88 383.46 375.02 373.93 384.00 364.23 392.41 354.17 400.41 343.74 407.99 332.96 415.16 321.82 421.92 310.14 428.37 297.92 434.52"/><path style="mix-blend-mode:plus-lighter" d="M297.92 434.52 314.82 433.59 318.59 433.10 322.37 432.32 327.58 430.82 332.97 428.83 338.90 426.23 345.37 423.00 353.28 418.61 361.37 413.67 369.63 408.19 377.72 402.40 385.63 396.33 393.36 389.97 400.91 383.32 408.28 376.38 413.49 371.21 418.70 365.79 423.91 360.12 429.13 354.21 434.34 348.04 439.55 341.62 449.97 328.03 458.78 315.82 468.31 301.99 477.29 288.49 499.22 255.05 511.26 237.25 517.55 228.32 523.66 219.94 529.60 212.12 535.53 204.61 542.36 196.37 549.19 188.56 556.02 181.19 563.03 174.06 570.22 167.18 577.40 160.72 584.77 154.51 592.32 148.55 600.77 142.32 609.40 136.42 618.38 130.70 627.55 125.30 637.08 120.09 646.96 115.08 657.03 110.36 667.63 105.76 678.59 101.36 689.92 97.16 701.60 93.16 713.82 89.29 726.58 85.56 739.70 82.02 753.36 78.62 767.74 75.33"/><path style="mix-blend-mode:plus-lighter" d="M767.74 75.33 751.39 75.78 746.18 76.11 737.73 77.16 728.03 78.89 714.73 81.87 699.81 85.76 684.54 90.23 669.62 95.08 656.33 99.84 643.57 104.85 631.35 110.10 619.67 115.59 608.35 121.40 597.56 127.45 587.14 133.83 577.08 140.53 568.63 146.62 560.37 153.03 552.28 159.76 544.37 166.82 536.65 174.21 529.10 181.93 521.55 190.15 514.18 198.69 507.71 206.60 501.07 215.14 494.42 224.08 487.41 233.88 474.29 253.13 450.03 290.10 439.97 305.14 429.37 320.35 419.30 333.97 413.19 341.81 407.26 349.08 401.33 356.03 395.22 362.84 389.11 369.32 383.00 375.46 376.71 381.45 370.24 387.28 362.16 394.12 353.89 400.62 345.45 406.80 336.64 412.79 327.65 418.46 318.31 423.92 308.61 429.18 298.54 434.22 288.12 439.05 277.34 443.66 266.20 448.07 254.70 452.26 242.66 456.32 230.08 460.23 217.14 463.93 203.66 467.49"/><path style="mix-blend-mode:plus-lighter" d="M203.66 467.49 219.83 466.98 224.51 466.67 232.23 465.64 241.04 463.92 252.90 460.98 266.37 457.04 280.21 452.49 294.05 447.45 306.63 442.40 318.67 437.11 330.35 431.49 341.49 425.63 352.27 419.44 362.51 413.03 372.39 406.30 382.10 399.11 389.82 392.94 397.37 386.49 404.74 379.77 412.11 372.60 419.29 365.16 426.30 357.45 433.31 349.28 440.50 340.43 445.89 333.47 451.46 326.02 462.96 309.83 474.28 293.06 495.84 260.16 504.83 246.67 514.35 232.83 523.16 220.63"/><path style="mix-blend-mode:plus-lighter" d="M523.16 220.63 507.70 222.36 505.19 222.91 502.85 223.72 499.44 225.43 496.02 227.77 492.43 230.88 488.66 234.78 485.60 238.34 482.19 242.65 474.28 253.59 466.37 265.29 443.37 300.11 436.19 310.66 429.54 320.11 423.07 328.97 416.78 337.25 410.49 345.16 404.38 352.50"/><path style="mix-blend-mode:plus-lighter" d="M404.38 352.50 420.01 350.90 422.71 350.34 425.40 349.44 429.00 347.71 432.77 345.24 436.54 342.15 440.68 338.14 445.17 333.18 450.20 327.05 455.77 319.73 462.06 310.98 474.28 293.03 501.95 250.94"/><path style="mix-blend-mode:plus-lighter" d="M501.95 250.94 487.22 252.69 485.42 253.02 483.62 253.52 480.93 254.63 478.23 256.15 475.54 258.11 472.66 260.64 469.97 263.40 467.27 266.48 464.22 270.29 460.80 274.86 454.87 283.28 434.21 313.53 427.20 323.36 420.55 332.33 414.26 340.46 407.97 348.23 401.68 355.63 395.39 362.66 387.67 370.80 379.76 378.59 371.68 386.02 363.41 393.09 354.96 399.80 346.16 406.30 337.17 412.44 327.83 418.35 318.13 424.03 308.06 429.46 297.64 434.65 286.68 439.69 275.54 444.40 263.86 448.95 251.64 453.32 239.06 457.47 225.94 461.44 212.29 465.25 198.09 468.88 183.18 472.38 167.71 475.72 151.67 478.90 134.91 481.95 117.25 484.89"/></g></mask>
<g clip-path="url(#ax)"><rect x="0" y="0" width="906" height="571" fill="#1f77b4" mask="url(#cm)"/></g>
<rect x="82.5" y="44.5" width="775" height="462" fill="none" stroke="#000" stroke-width="1.1111" stroke-linejoin="miter"/>
<g stroke="#000" stroke-width="1.1111"><line x1="115.5" y1="506.5" x2="115.5" y2="511.361"/><line x1="234.5" y1="506.5" x2="234.5" y2="511.361"/><line x1="354.5" y1="506.5" x2="354.5" y2="511.361"/><line x1="474.5" y1="506.5" x2="474.5" y2="511.361"/><line x1="594.5" y1="506.5" x2="594.5" y2="511.361"/><line x1="714.5" y1="506.5" x2="714.5" y2="511.361"/><line x1="833.5" y1="506.5" x2="833.5" y2="511.361"/><line x1="82.5" y1="84.5" x2="77.639" y2="84.5"/><line x1="82.5" y1="148.5" x2="77.639" y2="148.5"/><line x1="82.5" y1="211.5" x2="77.639" y2="211.5"/><line x1="82.5" y1="274.5" x2="77.639" y2="274.5"/><line x1="82.5" y1="338.5" x2="77.639" y2="338.5"/><line x1="82.5" y1="401.5" x2="77.639" y2="401.5"/><line x1="82.5" y1="464.5" x2="77.639" y2="464.5"/></g>
<g><text x="114.364" y="526.526" font-size="13.8889px" text-anchor="middle">−6000</text><text x="234.160" y="526.526" font-size="13.8889px" text-anchor="middle">−4000</text><text x="353.206" y="526.526" font-size="13.8889px" text-anchor="middle">−2000</text><text x="475.501" y="496.722" font-size="13.8889px" text-anchor="middle" transform="scale(1 1.06)">0</text><text x="593.547" y="511.190" font-size="13.8889px" text-anchor="middle" transform="scale(1 1.03)">2000</text><text x="713.593" y="496.722" font-size="13.8889px" text-anchor="middle" transform="scale(1 1.06)">4000</text><text x="833.638" y="526.526" font-size="13.8889px" text-anchor="middle">6000</text><text x="72.278" y="86.947" font-size="13.8889px" text-anchor="end" transform="scale(1 1.03)">1.5</text><text x="72.028" y="148.191" font-size="13.8889px" text-anchor="end" transform="scale(1 1.03)">1.0</text><text x="73.028" y="209.434" font-size="13.8889px" text-anchor="end" transform="scale(1 1.03)">0.5</text><text x="72.028" y="263.725" font-size="13.8889px" text-anchor="end" transform="scale(1 1.06)">0.0</text><text x="71.528" y="342.629" font-size="13.8889px" text-anchor="end">−0.5</text><text x="71.528" y="405.710" font-size="13.8889px" text-anchor="end">−1.0</text><text x="71.778" y="469.542" font-size="13.8889px" text-anchor="end">−1.5</text><text x="469.500" y="546.523" font-size="13.8889px" text-anchor="middle">Current (A)</text><text x="0" y="0" font-size="13.8889px" text-anchor="middle" transform="translate(28.608 276.000) rotate(-90) scale(1 1.04)">Magnetization (A/m)</text><text x="469.750" y="33.648" font-size="16.6667px" text-anchor="middle" transform="scale(1 1.06)">Random Magnetization</text></g>
</svg>
</body></html>
